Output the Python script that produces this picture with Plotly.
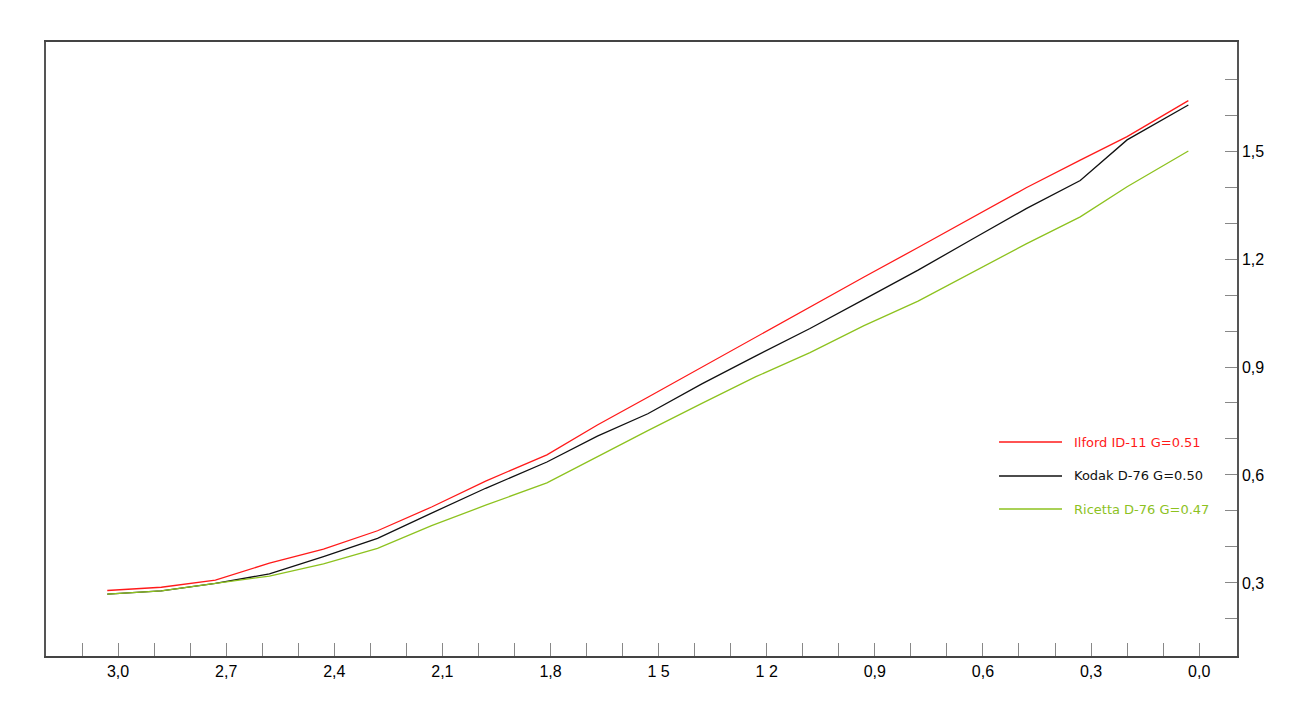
import plotly.graph_objects as go

# log exposure (x) and density values
log_h = [3.03, 2.88, 2.73, 2.58, 2.43, 2.28, 2.13, 1.98, 1.81, 1.67, 1.53,
         1.38, 1.23, 1.08, 0.93, 0.78, 0.63, 0.48, 0.33, 0.20, 0.03]

ilford_id11 = [0.279, 0.288, 0.308, 0.355, 0.394, 0.445, 0.511, 0.583, 0.656, 0.739, 0.816,
               0.900, 0.984, 1.068, 1.150, 1.232, 1.315, 1.398, 1.475, 1.540, 1.640]
kodak_d76 = [0.269, 0.278, 0.299, 0.325, 0.373, 0.424, 0.494, 0.563, 0.636, 0.708, 0.770,
             0.853, 0.931, 1.007, 1.088, 1.169, 1.255, 1.340, 1.418, 1.531, 1.628]
ricetta_d76 = [0.269, 0.278, 0.299, 0.319, 0.353, 0.396, 0.459, 0.516, 0.578, 0.651, 0.723,
               0.799, 0.873, 0.940, 1.015, 1.083, 1.162, 1.242, 1.317, 1.401, 1.500]

series_names = ["Ilford ID-11 G=0.51", "Kodak D-76 G=0.50", "Ricetta D-76 G=0.47"]
series_colors = ["#ff1a1a", "#111111", "#8dc21f"]
series_values = [ilford_id11, kodak_d76, ricetta_d76]

x_tickvals = [3.1, 3.0, 2.9, 2.8, 2.7, 2.6, 2.5, 2.4, 2.3, 2.2, 2.1, 2.0, 1.9, 1.8, 1.7, 1.6,
              1.5, 1.4, 1.3, 1.2, 1.1, 1.0, 0.9, 0.8, 0.7, 0.6, 0.5, 0.4, 0.3, 0.2, 0.1, 0.0]
x_label_map = {3.0: "3,0", 2.7: "2,7", 2.4: "2,4", 2.1: "2,1", 1.8: "1,8", 1.5: "1 5",
               1.2: "1 2", 0.9: "0,9", 0.6: "0,6", 0.3: "0,3", 0.0: "0,0"}
y_tickvals = [0.2, 0.3, 0.4, 0.5, 0.6, 0.7, 0.8, 0.9, 1.0, 1.1, 1.2, 1.3, 1.4, 1.5, 1.6, 1.7]
y_label_map = {0.3: "0,3", 0.6: "0,6", 0.9: "0,9", 1.2: "1,2", 1.5: "1,5"}

fig = go.Figure()
for name, color, vals in zip(series_names, series_colors, series_values):
    fig.add_trace(go.Scatter(x=log_h, y=vals, mode="lines", name=name,
                             line=dict(color=color, width=1.3), showlegend=False))

# custom legend (long line sample + coloured text)
leg_x0, leg_x1, leg_tx = 0.8002, 0.8531, 0.8615
leg_ys = [0.3485, 0.2932, 0.2394]
for name, color, ly in zip(series_names, series_colors, leg_ys):
    fig.add_shape(type="line", xref="paper", yref="paper", x0=leg_x0, x1=leg_x1, y0=ly, y1=ly,
                  line=dict(color=color, width=1.6))
    fig.add_annotation(xref="paper", yref="paper", x=leg_tx, y=ly, text=name, showarrow=False,
                       xanchor="left", yanchor="middle",
                       font=dict(family="DejaVu Sans", size=13, color=color))

tick_font = dict(family="Liberation Sans, Arial", size=16, color="#000000")
fig.update_xaxes(range=[3.2, -0.105], tickmode="array", tickvals=x_tickvals,
                 ticktext=[x_label_map.get(round(v, 1), "") for v in x_tickvals],
                 ticks="inside", ticklen=13, tickwidth=1, tickcolor="#888888",
                 showline=True, linecolor="#444444", linewidth=1.5, mirror=True,
                 showgrid=False, zeroline=False, tickfont=tick_font)
fig.update_yaxes(range=[0.097, 1.803], side="right", tickmode="array", tickvals=y_tickvals,
                 ticktext=[y_label_map.get(round(v, 1), "") for v in y_tickvals],
                 ticks="inside", ticklen=12, tickwidth=1, tickcolor="#888888",
                 showline=True, linecolor="#555555", linewidth=1.5, mirror=True,
                 showgrid=False, zeroline=False, tickfont=tick_font)

fig.update_layout(width=1304, height=716, margin=dict(l=38, r=75, t=34, b=68),
                  paper_bgcolor="white", plot_bgcolor="white", showlegend=False)

fig.write_html("out.html")
